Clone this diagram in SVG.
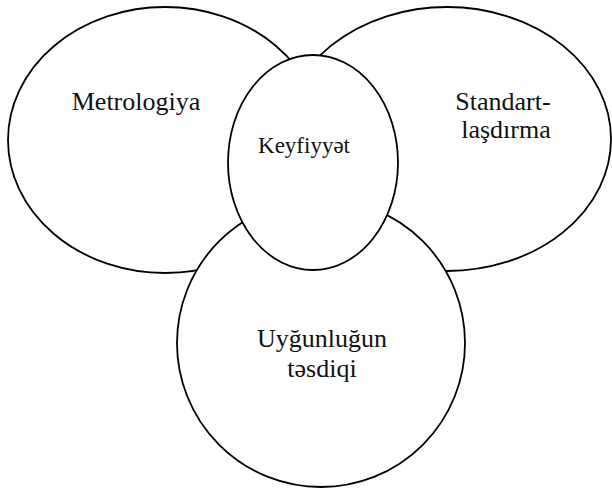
<svg xmlns="http://www.w3.org/2000/svg" width="612" height="488" viewBox="0 0 612 488">
  <style>
    .shape { fill: #ffffff; stroke: #000000; stroke-width: 1.8; }
    .label { font-family: "Liberation Serif", "Times New Roman", serif; font-size: 26px; fill: #111111; text-anchor: middle; }
    .small { font-size: 23px; }
  </style>
  <rect width="612" height="488" fill="#ffffff"/>
  <g id="metrologiya">
    <ellipse class="shape" cx="165" cy="140" rx="157" ry="133"/>
    <text class="label" x="136" y="110">Metrologiya</text>
  </g>
  <g id="standartlasdirma">
    <ellipse class="shape" cx="447" cy="139" rx="164" ry="132"/>
    <text class="label" x="503" y="110">Standart-</text>
    <text class="label" x="506" y="138">laşdırma</text>
  </g>
  <g id="uygunlugun-tesdiqi">
    <circle class="shape" cx="321" cy="343" r="144"/>
    <text class="label" x="322" y="347">Uyğunluğun</text>
    <text class="label" x="322" y="377">təsdiqi</text>
  </g>
  <g id="keyfiyyet">
    <ellipse class="shape" cx="313" cy="162.5" rx="85" ry="107.5"/>
    <text class="label small" x="304" y="153">Keyfiyyət</text>
  </g>
</svg>
